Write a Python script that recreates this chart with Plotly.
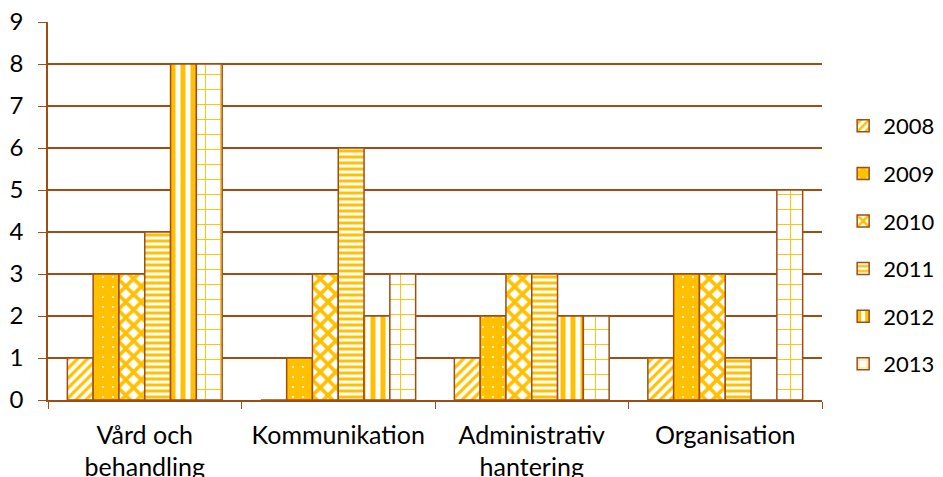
import plotly.graph_objects as go

categories = ["Vård och<br>behandling", "Kommunikation", "Administrativ<br>hantering", "Organisation"]
years = ["2008", "2009", "2010", "2011", "2012", "2013"]
v2008 = [1, 0, 1, 1]
v2009 = [3, 1, 2, 3]
v2010 = [3, 3, 3, 3]
v2011 = [4, 6, 3, 1]
v2012 = [8, 2, 2, 0]
v2013 = [8, 3, 2, 5]
series = [v2008, v2009, v2010, v2011, v2012, v2013]

GOLD = "#FFC000"
BROWN = "#9E4E14"

styles = [
    dict(color="white", pattern=dict(shape="/", fgcolor=GOLD, bgcolor="white", size=7, solidity=0.45, fillmode="replace")),
    dict(color=GOLD, pattern=dict(shape=".", fgcolor="white", bgcolor=GOLD, size=10, solidity=0.03, fillmode="replace")),
    dict(color="white", pattern=dict(shape="x", fgcolor=GOLD, bgcolor="white", size=11, solidity=0.55, fillmode="replace")),
    dict(color="white", pattern=dict(shape="-", fgcolor=GOLD, bgcolor="white", size=6, solidity=0.5, fillmode="replace")),
    dict(color="white", pattern=dict(shape="|", fgcolor=GOLD, bgcolor="white", size=10, solidity=0.5, fillmode="replace")),
    dict(color="white", pattern=dict(shape="+", fgcolor=GOLD, bgcolor="white", size=15, solidity=0.12, fillmode="replace")),
]

fig = go.Figure()
for name, vals, st in zip(years, series, styles):
    fig.add_trace(go.Bar(
        x=categories, y=vals, name=name, legendgroup=name,
        marker=dict(color=st["color"], pattern=st["pattern"], line=dict(color=BROWN, width=1.5)),
    ))

font = dict(family="Lato, Open Sans, sans-serif", size=25, color="black")
fig.update_layout(
    width=943, height=477,
    margin=dict(l=40, r=128, t=14, b=85),
    paper_bgcolor="white", plot_bgcolor="white",
    barmode="group", bargap=0.2, bargroupgap=0,
    font=font,
    legend=dict(x=1.026, xanchor="left", y=0.41, yanchor="middle", tracegroupgap=16,
                font=dict(size=22), itemwidth=30),
    xaxis=dict(showline=True, linecolor=BROWN, linewidth=1.5, ticks="outside", ticklen=7,
               tickcolor=BROWN, tickson="boundaries", tickfont=dict(size=25), showgrid=False,
               automargin=False, ticklabelstandoff=12),
    yaxis=dict(range=[0, 9], tickvals=list(range(10)), showline=True, linecolor=BROWN, linewidth=1.5,
               ticks="outside", ticklen=8, tickcolor=BROWN, showgrid=True, gridcolor=BROWN,
               gridwidth=1.5, tickfont=dict(size=24), zeroline=False, automargin=False,
               ticklabeloverflow="allow", ticklabelstandoff=10),
)
fig.write_html("out.html")
